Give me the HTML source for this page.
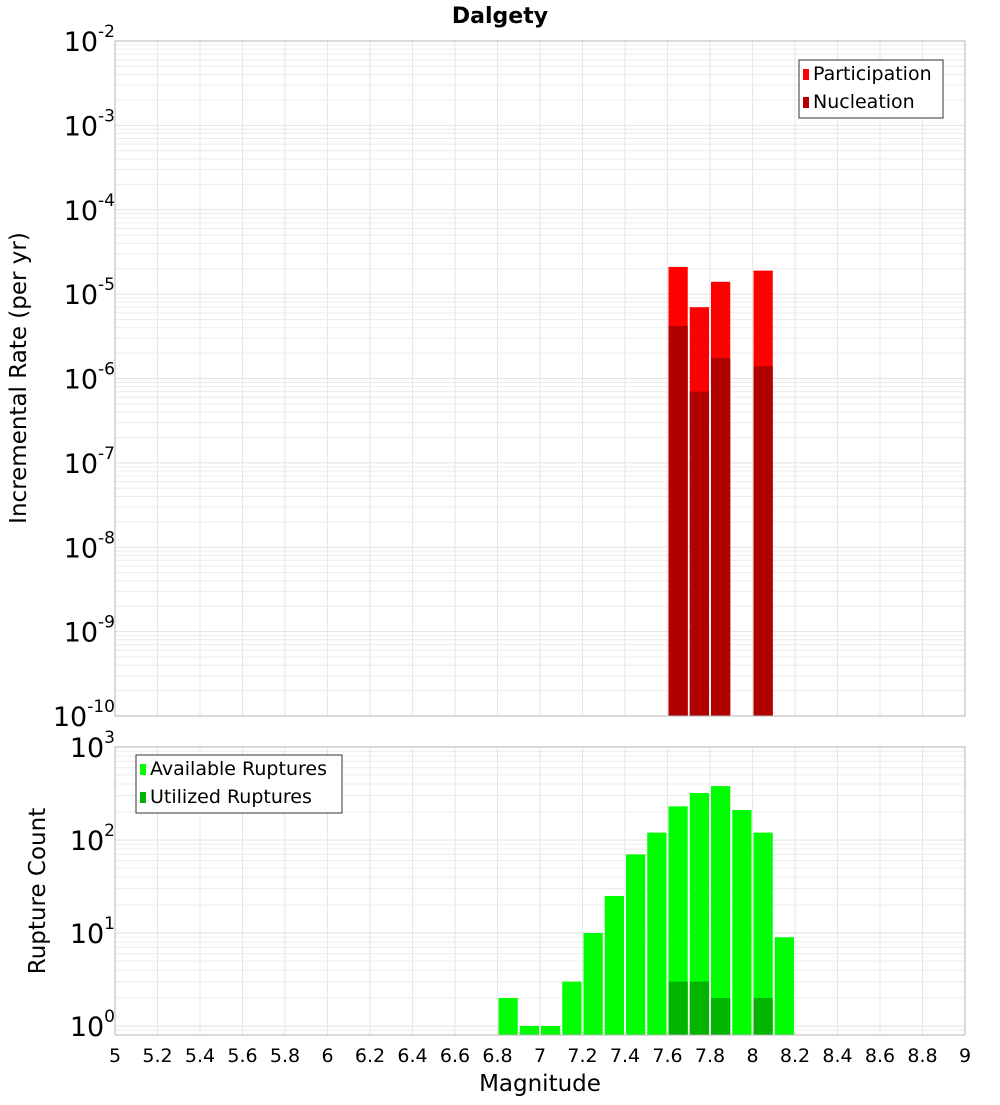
<!DOCTYPE html>
<html><head><meta charset="utf-8"><style>
body{margin:0;background:#fff;font-family:"Liberation Sans","DejaVu Sans",sans-serif}
svg text{font-family:"DejaVu Sans","Liberation Sans",sans-serif}
</style></head><body>
<svg id="c" width="1000" height="1100" xmlns="http://www.w3.org/2000/svg"></svg>
<script>
const binCenters=[7.65,7.75,7.85,8.05];
const participation=[2.1e-5,7e-6,1.4e-5,1.9e-5];
const nucleation=[4.2e-6,7e-7,1.75e-6,1.4e-6];
const countCenters=[6.85,6.95,7.05,7.15,7.25,7.35,7.45,7.55,7.65,7.75,7.85,7.95,8.05,8.15];
const available=[2,1,1,3,10,25,70,120,230,320,380,210,120,9];
const utilCenters=[7.65,7.75,7.85,8.05];
const utilized=[3,3,2,2];
const xTicks=[5,5.2,5.4,5.6,5.8,6,6.2,6.4,6.6,6.8,7,7.2,7.4,7.6,7.8,8,8.2,8.4,8.6,8.8,9];
const topExps=[-2,-3,-4,-5,-6,-7,-8,-9,-10];
const botExps=[3,2,1,0];

const NS="http://www.w3.org/2000/svg";
const svg=document.getElementById('c');
function mk(t,a,p){const e=document.createElementNS(NS,t);for(const k in a)e.setAttribute(k,a[k]);(p||svg).appendChild(e);return e;}
const L=115,R=965;
const X=m=>L+(m-5)*(R-L)/4;
const T0=41,T1=716;
const yT=v=>T0+(-2-Math.log10(v))*(T1-T0)/8;
const B0=747,B1=1035,bpd=93;
const yB=v=>B0+(3-Math.log10(v))*bpd;

function grid(top,bot,yf,lo,hi,name){
  const g=mk('g',{});
  
  
  for(let e=lo;e<=hi;e++)for(let k=1;k<10;k++){const v=k*Math.pow(10,e);const y=yf(v);if(y<top-0.5||y>bot+0.5)continue;
    mk('line',{x1:L,x2:R,y1:y,y2:y,stroke:k==1?'#e2e2e2':'#ececec','stroke-width':1},g);}
  xTicks.forEach(t=>{const x=X(t);mk('line',{x1:x,x2:x,y1:top,y2:bot,stroke:'#e6e6e6'},g);});
}
grid(T0,T1,yT,-10,-2,'top-grid');
grid(B0,B1,yB,-1,3,'bottom-grid');

const w=(X(0.1)-X(0))-2;
binCenters.forEach((m,i)=>{
  const r=mk('rect',{x:X(m)-w/2,y:yT(participation[i]),width:w,height:T1-yT(participation[i]),fill:'#ff0000'});
  
  
  const n=mk('rect',{x:X(m)-w/2,y:yT(nucleation[i]),width:w,height:T1-yT(nucleation[i]),fill:'#b00000'});
  
  
});
countCenters.forEach((m,i)=>{
  const r=mk('rect',{x:X(m)-w/2,y:yB(available[i]),width:w,height:B1-yB(available[i]),fill:'#00ff00'});
  
  
});
utilCenters.forEach((m,i)=>{
  const r=mk('rect',{x:X(m)-w/2,y:yB(utilized[i]),width:w,height:B1-yB(utilized[i]),fill:'#00b400'});
  
  
});
mk('rect',{x:L,y:T0,width:R-L,height:T1-T0,fill:'none',stroke:'#b4b4b4'});
mk('rect',{x:L,y:B0,width:R-L,height:B1-B0,fill:'none',stroke:'#b4b4b4'});

function logLabel(y,e,name){
  const t=mk('text',{x:115,y:y+10,'text-anchor':'end','font-size':27,fill:'#000'});
  
  
  const a=document.createElementNS(NS,'tspan');a.textContent='10';t.appendChild(a);
  const b=document.createElementNS(NS,'tspan');b.setAttribute('dy','-14');b.setAttribute('font-size','17');b.textContent=String(e);t.appendChild(b);
}
topExps.forEach(e=>logLabel(yT(Math.pow(10,e)),e,'top-y-tick'));
botExps.forEach(e=>logLabel(yB(Math.pow(10,e)),e,'bottom-y-tick'));
xTicks.forEach(t=>{
  const tx=mk('text',{x:X(t),y:1062,'text-anchor':'middle','font-size':19,fill:'#000'});
  
  
  tx.textContent=String(t);
});
function txt(s,a,name){const t=mk('text',a);t.textContent=s;return t;}
txt('Dalgety',{x:500,y:23,'text-anchor':'middle','font-size':22,'font-weight':'bold'},'chart-title');
txt('Magnitude',{x:540,y:1091,'text-anchor':'middle','font-size':23},'x-axis-title');
txt('Incremental Rate (per yr)',{x:0,y:0,'text-anchor':'middle','font-size':23,transform:'translate(26,378) rotate(-90)'},'top-y-axis-title');
txt('Rupture Count',{x:0,y:0,'text-anchor':'middle','font-size':23,transform:'translate(45,891) rotate(-90)'},'bottom-y-axis-title');

function legend(x,y,wd,items,name){
  const g=mk('g',{});
  
  
  mk('rect',{x:x,y:y,width:wd,height:58,fill:'#fff',stroke:'#333'},g);
  items.forEach((it,i)=>{
    mk('rect',{x:x+4,y:y+9+i*28,width:6,height:11,fill:it[1]},g);
    const t=mk('text',{x:x+14,y:y+20+i*28,'font-size':19},g);t.textContent=it[0];
  });
}
legend(799,60,144,[['Participation','#ff0000'],['Nucleation','#b00000']],'top-legend');
legend(136,755,206,[['Available Ruptures','#00ff00'],['Utilized Ruptures','#00b400']],'bottom-legend');
</script>
</body></html>
